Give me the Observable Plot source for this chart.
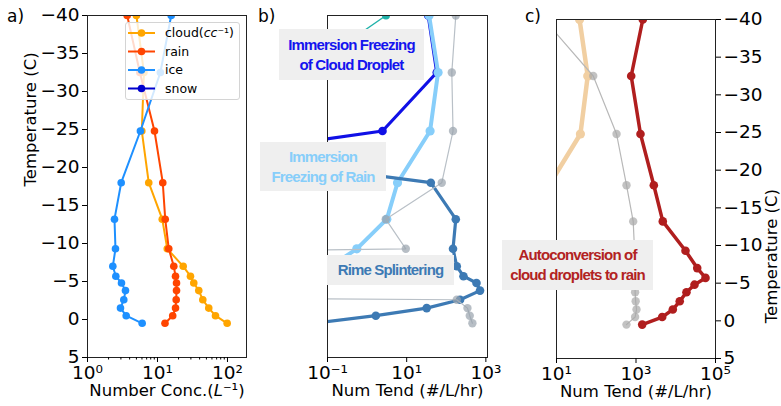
<!DOCTYPE html>
<html><head><meta charset="utf-8">
<script src="https://cdn.jsdelivr.net/npm/d3@7"></script>
<script src="https://cdn.jsdelivr.net/npm/@observablehq/plot@0.6"></script>
<style>
body{margin:0;background:#fff;}
#chart{position:relative;width:781px;height:406px;overflow:hidden;font-family:"DejaVu Sans",sans-serif;background:#fff;}
#chart svg.pp{position:absolute;left:0;top:0;}
.note{position:absolute;background:#efefef;font-family:"Liberation Sans",Arial,sans-serif;font-weight:bold;font-size:15px;letter-spacing:-0.85px;text-align:center;line-height:20px;display:flex;flex-direction:column;justify-content:center;white-space:nowrap;}
.plabel{position:absolute;font-size:17px;line-height:20px;}
.legend{position:absolute;background:rgba(255,255,255,0.8);border:1px solid #d4d4d4;border-radius:3px;box-sizing:border-box;}
</style></head><body><div id="chart"></div>
<script>
// ---------- data ----------
const temps = [-40, -32.5, -24.8, -18, -13.2, -9.3, -7, -5.7, -4.8, -3.8, -2.6, -1.5, -0.5, 0.5];

// panel a: number concentration
const cloudConc = [5.0, 6.4, 5.97, 7.5, 11.7, 13.8, 23.3, 29.6, 33, 38.9, 44.4, 54, 67.4, 99];
const rainConc  = [3.69, 5.6, 9.06, 11.9, 12.9, 14.5, 17.1, 18.1, 18.7, 18.7, 18.5, 18.1, 16.5, 12.8];
const iceConc   = [15.7, 11.0, 5.7, 3.03, 2.43, 2.51, 2.30, 2.54, 3.06, 3.49, 3.30, 2.96, 3.57, 6.04];
const snowConc  = [];
const seriesA   = ["cloud", "rain", "ice", "snow"];
const colorsA   = ["#ffa500", "#ff4500", "#1e90ff", "#0000cd"];
const legendA   = [[["cloud(", false], ["cc", true], ["\u207B\u00B9)", false]], [["rain", false]], [["ice", false]], [["snow", false]]];

// panel b: ice number tendencies
const tendTeal      = [3.0, 0.025, null, null, null, null, null, null, null, null, null, null, null, null];
const tendFrzCloud  = [35, 57.5, 2.45, 1.5e-9, null, null, null, null, null, null, null, null, null, null];
const tendFrzRain   = [36.8, 62, 39, 5.87, 3.15, 0.55, 0.12, 0.02, null, null, null, null, null, null];
const tendRime      = [null, null, 4.6e-9, 40.7, 174, 148, 184, 272, 580, 713, 223, 32, 1.66, 0.043];
const tendGrayB     = [174, 138, 148, 77, 2.96, 9.5, 0, 0, 0, 0, 184, 343, 392, 457];

// panel c: rain number tendencies
const tendAuto      = [1483, 757, 1297, 2806, 4720, 17600, 34700, 56000, 29600, 18600, 12600, 8430, 4560, 1432];
const tendTan       = [38, 61, 40, 6.5, null, null, null, null, null, null, null, null, null, null];
const tendGrayC     = [4.9, 84, 324, 577, 850, 920, 940, 950, 950, 950, 980, 1030, 950, 575];

const tempTicks = [-40, -35, -30, -25, -20, -15, -10, -5, 0, 5];
const xTicksA = [1, 10, 100];
const xMinorA = [2,3,4,5,6,7,8,9,20,30,40,50,60,70,80,90];
const xTicksB = [0.1, 10, 1000];
const xTicksC = [10, 1000, 100000];

const yLabel = "Temperature (C)";
const xLabelA = "Number Conc.(L\u207B\u00B9)";
const xLabelB = "Num Tend (#/L/hr)";
const xLabelC = "Num Tend (#/L/hr)";
const panelLabels = ["a)", "b)", "c)"];
const notes = [
  {lines: ["Immersion Freezing", "of Cloud Droplet"], color: "#1414ee"},
  {lines: ["Immersion", "Freezing of Rain"], color: "#87cefa"},
  {lines: ["Rime Splintering"], color: "#3d7ab4"},
  {lines: ["Autoconversion of", "cloud droplets to rain"], color: "#b22222"}
];

// ---------- helpers ----------
const sup = {"-":"\u207B","0":"\u2070","1":"\u00B9","2":"\u00B2","3":"\u00B3","4":"\u2074","5":"\u2075","6":"\u2076","7":"\u2077","8":"\u2078","9":"\u2079"};
const fmtPow = d => "10" + String(Math.round(Math.log10(d))).split("").map(c => sup[c]).join("");
const fmtT = d => d < 0 ? "\u2212" + (-d) : String(d);
const series = vals => temps.map((t, i) => ({t, v: vals[i]})).filter(d => d.v != null);
const xv = d => Math.max(d.v, 1e-30);
function lineDots(vals, o) {
  const data = series(vals);
  return [
    Plot.line(data, {x: xv, y: "t", stroke: o.stroke, strokeWidth: o.width, strokeOpacity: o.lineOpacity ?? 1, clip: true}),
    Plot.dot(data, {x: xv, y: "t", r: o.r, fill: o.dotFill ?? o.stroke, fillOpacity: o.dotOpacity ?? 1, clip: true})
  ];
}
const baseStyle = {background: "transparent", fontFamily: "DejaVu Sans", fontSize: "18.5px", color: "#000"};
const chart = document.getElementById("chart");

// ---------- panel a ----------
const pA = Plot.plot({
  width: 781, height: 406, marginLeft: 87, marginRight: 535, marginTop: 15, marginBottom: 49,
  style: baseStyle,
  x: {type: "log", domain: [1, 187]},
  y: {domain: [-40, 5], reverse: true},
  marks: [
    ...lineDots(cloudConc, {stroke: colorsA[0], width: 2, r: 3.8}),
    ...lineDots(rainConc, {stroke: colorsA[1], width: 2, r: 3.8}),
    ...lineDots(iceConc, {stroke: colorsA[2], width: 2, r: 3.8}),
    Plot.frame({stroke: "#222"}),
    Plot.axisX({ticks: xTicksA, tickFormat: fmtPow, tickSize: 5, tickPadding: 3, label: null}),
    Plot.axisX({ticks: xMinorA, tickFormat: () => "", tickSize: 2.5, label: null}),
    Plot.axisY({ticks: tempTicks, tickFormat: fmtT, tickSize: 5, tickPadding: 3, label: null}),
    Plot.text([xLabelA], {text: d => d, frameAnchor: "bottom", dy: 38, fontSize: 16.5}),
    Plot.text([yLabel], {text: d => d, frameAnchor: "left", dx: -57, rotate: -90, fontSize: 16.5})
  ]
});

// ---------- panel b ----------
const pB = Plot.plot({
  width: 781, height: 406, marginLeft: 327, marginRight: 294, marginTop: 15, marginBottom: 49,
  style: baseStyle,
  x: {type: "log", domain: [0.1, 1100]},
  y: {domain: [-40, 5], reverse: true, axis: null},
  marks: [
    ...lineDots(tendTeal, {stroke: "#20b2aa", width: 1.3, r: 4}),
    ...lineDots(tendFrzCloud, {stroke: "#1010e6", width: 3.2, r: 4.3}),
    ...lineDots(tendFrzRain, {stroke: "#87cefa", width: 4, r: 4.6}),
    ...lineDots(tendRime, {stroke: "#3d7ab4", width: 3.2, r: 4.3}),
    ...lineDots(tendGrayB, {stroke: "#b9c0c7", width: 1.2, r: 4.2, dotFill: "#98a2ac", dotOpacity: 0.7}),
    Plot.frame({stroke: "#222"}),
    Plot.axisX({ticks: xTicksB, tickFormat: fmtPow, tickSize: 5, tickPadding: 3, label: null}),
    Plot.text([xLabelB], {text: d => d, frameAnchor: "bottom", dy: 38, fontSize: 16.5})
  ]
});

// ---------- panel c ----------
const pC = Plot.plot({
  width: 781, height: 406, marginLeft: 556, marginRight: 66, marginTop: 19, marginBottom: 48,
  style: baseStyle,
  x: {type: "log", domain: [10, 100000]},
  y: {domain: [-40, 5], reverse: true},
  marks: [
    ...lineDots(tendTan, {stroke: "#f1cfa2", width: 4.5, r: 4.6}),
    ...lineDots(tendGrayC, {stroke: "#b8b8b8", width: 1.2, r: 4.2, dotFill: "#a8a8a8", dotOpacity: 0.7}),
    ...lineDots(tendAuto, {stroke: "#b01e1e", width: 3.5, r: 4.3}),
    Plot.frame({stroke: "#222"}),
    Plot.axisX({ticks: xTicksC, tickFormat: fmtPow, tickSize: 5, tickPadding: 3, label: null}),
    Plot.axisY({anchor: "right", ticks: tempTicks, tickFormat: fmtT, tickSize: 5, tickPadding: 3, label: null}),
    Plot.text([xLabelC], {text: d => d, frameAnchor: "bottom", dy: 38.5, fontSize: 16.5}),
    Plot.text([yLabel], {text: d => d, frameAnchor: "right", dx: 56, rotate: -90, fontSize: 16.5})
  ]
});

[pA, pB, pC].forEach(p => { p.classList.add("pp"); chart.appendChild(p); });

// italic L in panel a x label
d3.select(pA).selectAll("text").filter(function() { return this.textContent === xLabelA; }).each(function() {
  const t = d3.select(this); t.text(null);
  t.append("tspan").text("Number Conc.(");
  t.append("tspan").attr("font-style", "italic").text("L");
  t.append("tspan").text("\u207B\u00B9)");
});

// ---------- legend (panel a) ----------
const leg = d3.select(chart).append("div").attr("class", "legend")
  .style("left", "125px").style("top", "22px").style("width", "115px").style("height", "78px");
const lsvg = leg.append("svg").attr("width", 113).attr("height", 76).style("display", "block");
seriesA.forEach((name, i) => {
  const g = lsvg.append("g").attr("transform", `translate(0,${10 + i * 18.5})`);
  g.append("line").attr("x1", 2).attr("x2", 29).attr("stroke", colorsA[i]).attr("stroke-width", 2);
  g.append("circle").attr("cx", 15.5).attr("r", 3.8).attr("fill", colorsA[i]);
  const tx = g.append("text").attr("x", 39).attr("dy", "0.35em").attr("font-size", 12.5).attr("font-family", "DejaVu Sans");
  legendA[i].forEach(([s, it]) => tx.append("tspan").attr("font-style", it ? "italic" : null).text(s));
});

// ---------- annotations ----------
const notePos = [
  {left: 279, top: 29, width: 145, height: 51},
  {left: 260, top: 142, width: 126, height: 49},
  {left: 327, top: 255, width: 127, height: 30},
  {left: 502, top: 240, width: 151, height: 50}
];
notes.forEach((n, i) => {
  const p = notePos[i];
  const div = d3.select(chart).append("div").attr("class", "note")
    .style("left", p.left + "px").style("top", p.top + "px").style("width", p.width + "px").style("height", p.height + "px")
    .style("color", n.color);
  n.lines.forEach(l => div.append("div").text(l));
});

// ---------- panel letters ----------
const letterPos = [{left: 7, top: 6}, {left: 258, top: 6}, {left: 525, top: 6}];
panelLabels.forEach((s, i) => {
  d3.select(chart).append("div").attr("class", "plabel")
    .style("left", letterPos[i].left + "px").style("top", letterPos[i].top + "px").text(s);
});
</script>
</body></html>
